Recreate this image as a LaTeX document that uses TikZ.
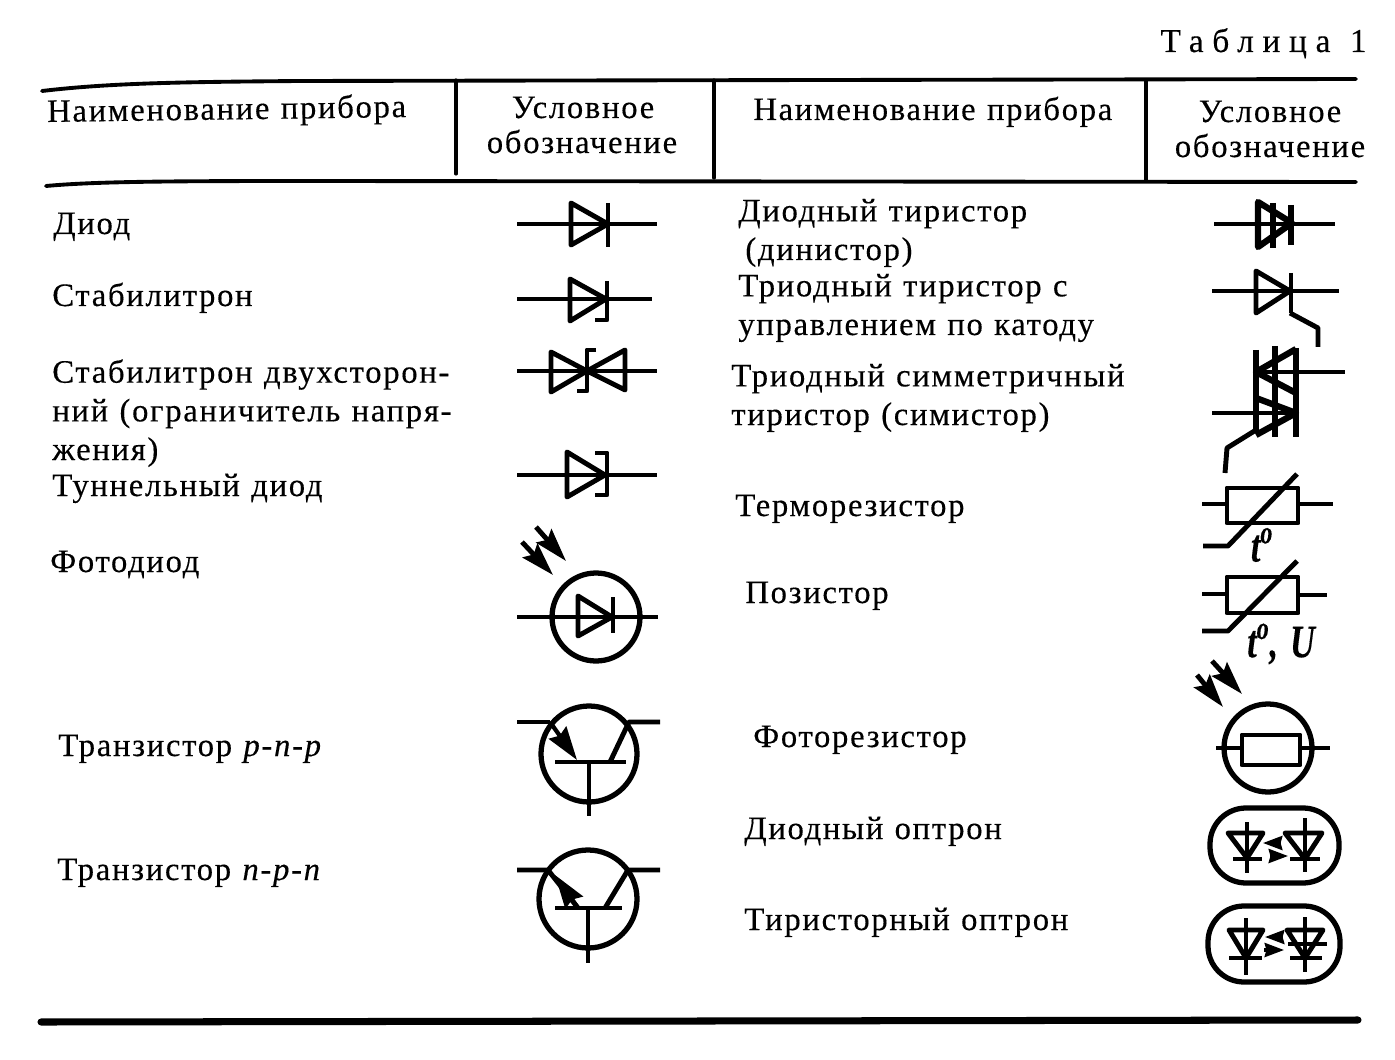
\documentclass[tikz,border=0pt]{standalone}
\usepackage{fontspec}
\usepackage{tikz}
\usetikzlibrary{arrows.meta}
\setmainfont[LetterSpace=5.2,WordSpace=1.15,FakeBold=0.3]{Liberation Serif}

\tikzset{
    lbl/.style={anchor=base west,inner sep=0pt,align=left,font=\fontsize{18.6}{22}\selectfont},
    head/.style={anchor=base,inner sep=0pt,font=\fontsize{18.6}{22}\selectfont},
    sym/.style={line width=2.8pt,line join=round},
    heavy sym/.style={line width=3.6pt,line join=round},
    ring/.style={line width=3pt},
    rule/.style={line width=1.8pt,line cap=round},
    ray/.style={line width=2.8pt,-{Stealth[length=19pt,width=11.5pt,inset=3pt]}},
    stem/.style={line width=2.4pt,-{Stealth[length=19pt,width=12pt,inset=2pt]}},
    tiny ray/.style={line width=1.8pt,-{Stealth[length=11pt,width=8pt,inset=1pt]}},
    tmark/.style={inner sep=0pt,xscale=0.85,yscale=1.15,font=\fontsize{23}{23}\selectfont\bfseries\itshape}
}

\begin{document}
\begin{tikzpicture}[x=0.02cm,y=-0.02cm]
    \useasboundingbox (0,0) rectangle (1395,1060);

    % table rules
    \draw[rule,line width=2.2pt] (42,91) .. controls (110,83) and (180,82) .. (300,81) -- (1356,79);
    \draw[rule,line width=2.2pt] (46,186) .. controls (90,182) and (150,181) .. (300,181) -- (1356,182);
    \draw[rule,line width=4pt] (41,1022) -- (1358,1020);
    \draw[rule] (456,80) -- (456,174);
    \draw[rule] (714,80) -- (714,178);
    \draw[rule] (1146,80) -- (1146,180);

    % header
    \node[anchor=base east,inner sep=0pt,font=\fontsize{19}{22}\selectfont\addfontfeature{LetterSpace=26}] (tablename) at (1367,52) {Таблица 1};
    \node[lbl,rotate=0.8] (namel) at (47,122) {Наименование прибора};
    \node[head] (signla) at (583,118) {Условное};
    \node[head] (signlb) at (582,153) {обозначение};
    \node[lbl] (namer) at (753,120) {Наименование прибора};
    \node[head] (signra) at (1270,122) {Условное};
    \node[head] (signrb) at (1270,157) {обозначение};

    % left column
    \node[lbl] (diode) at (53,234) {Диод};
    \node[lbl] (zener) at (52,306) {Стабилитрон};
    \node[lbl] (zenertwo) at (52,460) {Стабилитрон двухсторон-\\ний (ограничитель напря-\\жения)};
    \node[lbl] (tunnel) at (52,496) {Туннельный диод};
    \node[lbl] (photodiode) at (50,572) {Фотодиод};
    \node[lbl] (pnp) at (58,756) {Транзистор \textit{p-n-p}};
    \node[lbl] (npn) at (57,880) {Транзистор \textit{n-p-n}};

    % right column
    \node[lbl] (dinistor) at (738,260) {Диодный тиристор\\\hspace*{4pt}(динистор)};
    \node[lbl] (thyristor) at (738,335) {Триодный тиристор с\\управлением по катоду};
    \node[lbl] (simistor) at (731,425) {Триодный симметричный\\тиристор (симистор)};
    \node[lbl] (thermistor) at (735,516) {Терморезистор};
    \node[lbl] (posistor) at (745,603) {Позистор};
    \node[lbl] (photores) at (753,747) {Фоторезистор};
    \node[lbl] (optodiode) at (744,839) {Диодный оптрон};
    \node[lbl] (optothyr) at (744,930) {Тиристорный оптрон};

    % diode
    \draw[sym] (517,224) -- (657,224);
    \draw[sym] (571,203) -- (608,224) -- (571,245) -- cycle;
    \draw[sym] (608,203) -- (608,247);

    % zener
    \draw[sym] (517,299) -- (652,299);
    \draw[sym] (570,279) -- (606,299) -- (570,321) -- cycle;
    \draw[sym] (607,281) -- (607,320) -- (595,320);

    % two-way zener
    \draw[sym] (517,371) -- (657,371);
    \draw[sym] (551,352) -- (587,371) -- (551,392) -- cycle;
    \draw[sym] (625,350) -- (587,371) -- (625,390) -- cycle;
    \draw[sym] (596,350) -- (587,350) -- (587,391) -- (577,391);

    % tunnel diode
    \draw[sym] (517,475) -- (657,475);
    \draw[sym] (567,452) -- (605,475) -- (567,497) -- cycle;
    \draw[sym] (595,453) -- (607,453) -- (607,495) -- (595,495);

    % photodiode
    \draw[ring] (596,617) circle (44);
    \draw[sym] (517,617) -- (658,617);
    \draw[sym] (578,596) -- (612,617) -- (578,636) -- cycle;
    \draw[sym] (613,597) -- (613,633);
    \draw[ray] (522,542) -- (553,575);
    \draw[ray] (536,527) -- (566,561);

    % p-n-p
    \draw[ring] (589,754) circle (48);
    \draw[sym] (517,722) -- (550,722);
    \draw[stem] (550,722) -- (577,760);
    \draw[sym] (660,722) -- (629,722) -- (610,762);
    \draw[sym] (555,762) -- (626,762);
    \draw[sym] (589,762) -- (589,816);

    % n-p-n
    \draw[ring] (588,899) circle (49);
    \draw[sym] (517,870) -- (548,870) -- (578,908);
    \draw[stem] (578,908) -- (555,875);
    \draw[sym] (660,870) -- (628,870) -- (605,908);
    \draw[sym] (555,908) -- (622,908);
    \draw[sym] (588,908) -- (588,963);

    % dinistor
    \draw[sym] (1214,224) -- (1335,224);
    \draw[heavy sym] (1258,202) -- (1292,223) -- (1258,247) -- cycle;
    \draw[heavy sym] (1291,205) -- (1291,245);
    \draw[heavy sym] (1273,203) -- (1273,248);

    % triode thyristor
    \draw[sym] (1212,291) -- (1339,291);
    \draw[sym] (1256,271) -- (1290,291) -- (1256,313) -- cycle;
    \draw[sym] (1291,273) -- (1291,313);
    \draw[sym] (1290,313) -- (1318,328) -- (1318,347);

    % simistor
    \draw[heavy sym] (1256,350) -- (1256,433);
    \draw[heavy sym] (1275,346) -- (1275,437);
    \draw[heavy sym] (1296,348) -- (1296,437);
    \draw[heavy sym] (1296,349) -- (1256,372) -- (1296,393);
    \draw[heavy sym] (1256,398) -- (1296,413) -- (1256,435);
    \draw[sym] (1256,372) -- (1345,372);
    \draw[sym] (1212,413) -- (1296,413);
    \draw[sym] (1256,430) -- (1227,448) -- (1225,473);

    % thermistor
    \draw[sym] (1227,488) rectangle (1298,523);
    \draw[sym] (1202,504) -- (1227,504);
    \draw[sym] (1298,504) -- (1333,504);
    \draw[sym] (1297,474) -- (1228,546) -- (1203,546);
    \node[tmark] (tempa) at (1262,545) {t\textsuperscript{o}};

    % posistor
    \draw[sym] (1227,577) rectangle (1298,613);
    \draw[sym] (1202,594) -- (1227,594);
    \draw[sym] (1298,595) -- (1327,595);
    \draw[sym] (1297,561) -- (1228,631) -- (1202,631);
    \node[tmark] (tempb) at (1281,644) {t\textsuperscript{o}, U};

    % photoresistor
    \draw[ring] (1268,748) circle (44);
    \draw[sym] (1242,735) rectangle (1300,765);
    \draw[sym] (1216,748) -- (1242,748);
    \draw[sym] (1300,748) -- (1330,748);
    \draw[ray] (1197,675) -- (1223,707);
    \draw[ray] (1212,661) -- (1242,694);

    % diode optron
    \draw[ring,rounded corners=20.5pt] (1210,808) rectangle (1339,883);
    \draw[sym] (1228,833) -- (1263,833) -- (1247,858) -- cycle;
    \draw[sym] (1233,859) -- (1262,859);
    \draw[sym] (1247,822) -- (1247,873);
    \draw[sym] (1285,833) -- (1322,833) -- (1305,859) -- cycle;
    \draw[sym] (1290,859) -- (1320,859);
    \draw[sym] (1305,818) -- (1305,872);
    \draw[tiny ray] (1280,843) -- (1263,843);
    \draw[tiny ray] (1270,856) -- (1288,856);

    % thyristor optron
    \draw[ring,rounded corners=20.5pt] (1208,906) rectangle (1340,982);
    \draw[sym] (1229,930) -- (1263,930) -- (1246,958) -- cycle;
    \draw[sym] (1229,958) -- (1262,958);
    \draw[sym] (1246,918) -- (1246,975);
    \draw[sym] (1287,930) -- (1323,930) -- (1305,958) -- cycle;
    \draw[sym] (1290,958) -- (1322,958);
    \draw[sym] (1288,944) -- (1327,944);
    \draw[sym] (1305,917) -- (1305,972);
    \draw[tiny ray] (1282,937) -- (1265,937);
    \draw[tiny ray] (1264,950) -- (1284,950);
\end{tikzpicture}
\end{document}
